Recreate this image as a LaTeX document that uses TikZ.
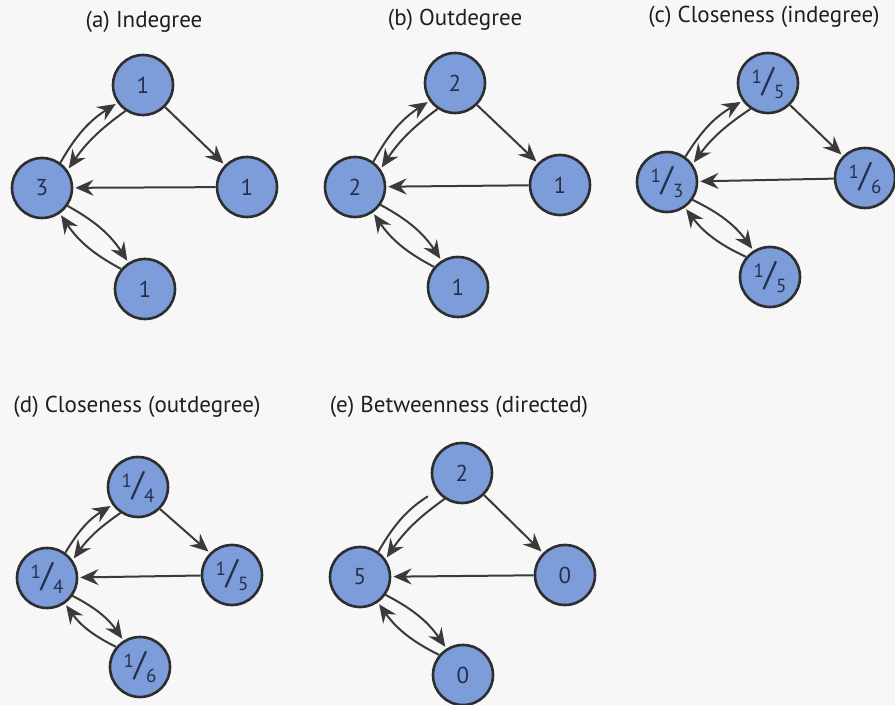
\documentclass[tikz,border=0pt]{standalone}
\usepackage{fontspec}
\setmainfont{PT Sans}
\usetikzlibrary{arrows.meta}
\definecolor{nodeblue}{RGB}{124,157,217}
\definecolor{edgegray}{RGB}{58,58,58}
\definecolor{labelnavy}{RGB}{38,48,76}
\newcommand{\fr}[2]{\raisebox{.75ex}{\fontsize{9.5}{9.5}\selectfont#1}{\fontsize{17}{17}\selectfont/}\raisebox{-.55ex}{\fontsize{9.5}{9.5}\selectfont#2}}

\begin{document}
\begin{tikzpicture}[x=0.5pt, y=0.5pt,
    vertex/.style={circle, draw=black!82, fill=nodeblue, line width=1.3pt, minimum size=30pt, inner sep=0pt, font=\fontsize{11.5}{13}\selectfont, text=labelnavy},
    caption/.style={font=\fontsize{11.5}{13}\selectfont, text=black!88},
    arrow/.style={-{Stealth[length=3.2mm, width=2.8mm, inset=1.1mm]}, line width=1pt, draw=edgegray, shorten >=1pt},
    plainline/.style={line width=1pt, draw=edgegray}
]
\useasboundingbox (0,0) rectangle (895,-705);
\fill[black!3] (0,0) rectangle (895,-705);

% (a) Indegree
\node[caption] (capA) at (144,-22) {(a) Indegree};
\node[vertex] (aT) at (143,-85) {1};
\node[vertex] (aL) at (42,-188) {3};
\node[vertex] (aR) at (247,-187) {1};
\node[vertex] (aB) at (145,-289) {1};
\draw[arrow] (aL.54) to[bend left=14] (aT.215);
\draw[arrow] (aT.236) to[bend right=10] (aL.35);
\draw[arrow] (aT.-45) -- (aR.135);
\draw[arrow] (aR) -- (aL);
\draw[arrow] (aL.325) to[bend left=14] (aB.122);
\draw[arrow] (aB.140) to[bend left=14] (aL.305);

% (b) Outdegree
\node[caption] (capB) at (455,-20) {(b) Outdegree};
\node[vertex] (bT) at (455,-83) {2};
\node[vertex] (bL) at (355,-187) {2};
\node[vertex] (bR) at (560,-185) {1};
\node[vertex] (bB) at (458,-287) {1};
\draw[arrow] (bL.54) to[bend left=14] (bT.215);
\draw[arrow] (bT.236) to[bend right=10] (bL.35);
\draw[arrow] (bT.-45) -- (bR.135);
\draw[arrow] (bR) -- (bL);
\draw[arrow] (bL.325) to[bend left=14] (bB.122);
\draw[arrow] (bB.140) to[bend left=14] (bL.305);

% (c) Closeness (indegree)
\node[caption] (capC) at (764,-17) {(c) Closeness (indegree)};
\node[vertex] (cT) at (768,-83) {\fr{1}{5}};
\node[vertex] (cL) at (667,-182) {\fr{1}{3}};
\node[vertex] (cR) at (865,-178) {\fr{1}{6}};
\node[vertex] (cB) at (770,-277) {\fr{1}{5}};
\draw[arrow] (cL.54) to[bend left=14] (cT.215);
\draw[arrow] (cT.236) to[bend right=10] (cL.35);
\draw[arrow] (cT.-45) -- (cR.135);
\draw[arrow] (cR) -- (cL);
\draw[arrow] (cL.325) to[bend left=14] (cB.122);
\draw[arrow] (cB.140) to[bend left=14] (cL.305);

% (d) Closeness (outdegree)
\node[caption] (capD) at (137,-407) {(d) Closeness (outdegree)};
\node[vertex] (dT) at (138,-487) {\fr{1}{4}};
\node[vertex] (dL) at (47,-578) {\fr{1}{4}};
\node[vertex] (dR) at (232,-575) {\fr{1}{5}};
\node[vertex] (dB) at (140,-667) {\fr{1}{6}};
\draw[arrow] (dL.54) to[bend left=14] (dT.215);
\draw[arrow] (dT.236) to[bend right=10] (dL.35);
\draw[arrow] (dT.-45) -- (dR.135);
\draw[arrow] (dR) -- (dL);
\draw[arrow] (dL.325) to[bend left=14] (dB.122);
\draw[arrow] (dB.140) to[bend left=14] (dL.305);

% (e) Betweenness (directed): outer arc drawn without a head
\node[caption] (capE) at (459,-407) {(e) Betweenness (directed)};
\node[vertex] (eT) at (462,-473) {2};
\node[vertex] (eL) at (360,-577) {5};
\node[vertex] (eR) at (565,-575) {0};
\node[vertex] (eB) at (463,-675) {0};
\draw[plainline, shorten >=5pt] (eL.54) to[bend left=14] (eT.215);
\draw[arrow] (eT.236) to[bend right=10] (eL.35);
\draw[arrow] (eT.-45) -- (eR.135);
\draw[arrow] (eR) -- (eL);
\draw[arrow] (eL.325) to[bend left=14] (eB.122);
\draw[arrow] (eB.140) to[bend left=14] (eL.305);

\end{tikzpicture}
\end{document}
